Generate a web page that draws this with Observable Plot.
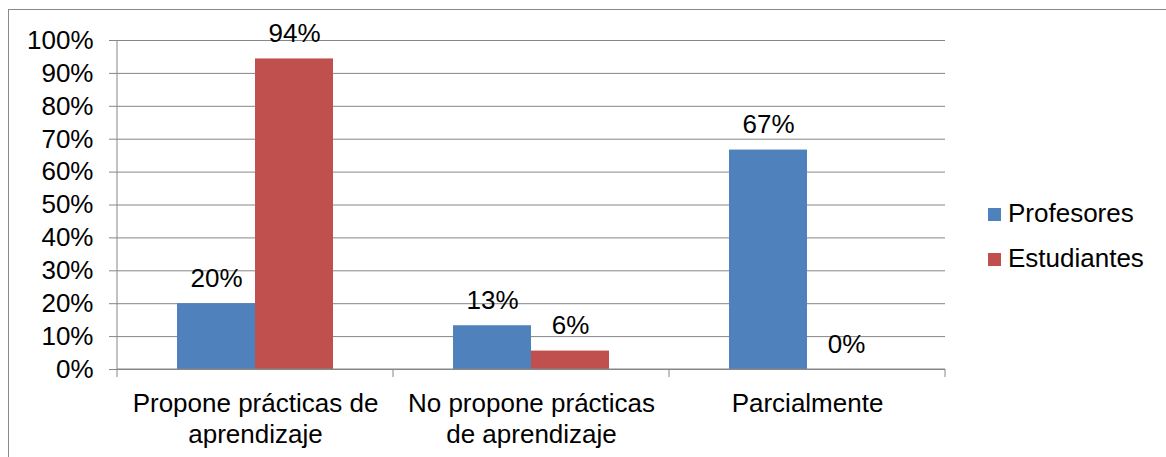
<!DOCTYPE html>
<html>
<head>
<meta charset="utf-8">
<script src="https://cdn.jsdelivr.net/npm/d3@7"></script>
<script src="https://cdn.jsdelivr.net/npm/@observablehq/plot@0.6"></script>
<style>
  html, body { margin: 0; padding: 0; background: #fff; overflow: hidden; }
  #wrap { position: relative; width: 1166px; height: 457px; }
  #border { position: absolute; left: 8px; top: 9px; width: 1300px; height: 600px;
            border-left: 1.5px solid #8a8a8a; border-top: 1.5px solid #8a8a8a; }
  #chart { position: absolute; left: 0; top: 0; }
</style>
</head>
<body>
<div id="wrap"><div id="border"></div><div id="chart"></div></div>
<script>
const categories = ["Propone prácticas de aprendizaje", "No propone prácticas de aprendizaje", "Parcialmente"];
const categoryLabels = ["Propone prácticas de\naprendizaje", "No propone prácticas\nde aprendizaje", "Parcialmente"];
const series = ["Profesores", "Estudiantes"];
const profesores = [0.20, 0.133, 0.667];
const estudiantes = [0.944, 0.056, 0.0];
const seriesColors = ["#4F81BD", "#C0504D"];
const yTicks = [0, 0.1, 0.2, 0.3, 0.4, 0.5, 0.6, 0.7, 0.8, 0.9, 1.0];

const values = {Profesores: profesores, Estudiantes: estudiantes};
const data = categories.flatMap((c, i) => series.map(s => ({cat: c, series: s, value: values[s][i]})));
const pct = d3.format(".0%");
const FONT = "'Liberation Sans', Arial, sans-serif";
const GRID = "#868686";

const chart = Plot.plot({
  width: 1166,
  height: 457,
  marginLeft: 116,
  marginRight: 220,
  marginTop: 40,
  marginBottom: 88,
  style: {fontFamily: FONT, fontSize: "26px", color: "#000", background: "transparent", overflow: "visible"},
  fx: {domain: categories, padding: 0},
  x: {domain: series, paddingInner: 0, paddingOuter: 0.75, axis: null},
  y: {domain: [0, 1]},
  color: {domain: series, range: seriesColors},
  marks: [
    Plot.ruleY(yTicks, {stroke: GRID, strokeWidth: 1}),
    Plot.barY(data, {fx: "cat", x: "series", y: "value", fill: "series"}),
    Plot.text(data, {fx: "cat", x: "series", y: "value", text: d => pct(d.value),
      lineAnchor: "bottom", dy: -17, fill: "#000", fontSize: 26}),
    Plot.axisY({ticks: yTicks, tickFormat: pct, tickSize: 8, tickPadding: 16,
      stroke: GRID, fill: "#000", label: null, fontSize: 26}),
    Plot.axisFx({anchor: "bottom", tickSize: 0, tickPadding: 20, label: null, fill: "#000", fontSize: 26, lineHeight: 1.2,
      tickFormat: d => categoryLabels[categories.indexOf(d)]})
  ]
});
document.getElementById("chart").appendChild(chart);

// Axis lines, boundary ticks and legend derived from the chart's scales
const fx = chart.scale("fx");
const y = chart.scale("y");
const svg = d3.select(chart);
const left = fx.apply(categories[0]);
const right = fx.apply(categories[categories.length - 1]) + fx.bandwidth;
const y0 = y.apply(0), y1 = y.apply(1);
const g = svg.append("g").attr("stroke", GRID).attr("stroke-width", 1);
g.append("line").attr("x1", left).attr("x2", left).attr("y1", y1).attr("y2", y0);
g.append("line").attr("x1", left).attr("x2", right).attr("y1", y0).attr("y2", y0);
const bounds = categories.map(c => fx.apply(c)).concat([right]);
g.selectAll(".bt").data(bounds).join("line")
  .attr("x1", d => d).attr("x2", d => d).attr("y1", y0).attr("y2", y0 + 8);

const color = chart.scale("color");
const lg = svg.append("g").attr("font-family", FONT).attr("font-size", 26).attr("text-anchor", "start");
series.forEach((s, i) => {
  const ty = 222 + i * 45;
  lg.append("rect").attr("x", 988).attr("y", ty - 14).attr("width", 13).attr("height", 13)
    .attr("fill", color.apply(s));
  lg.append("text").attr("x", 1008).attr("y", ty).attr("fill", "#000").text(s);
});
</script>
</body>
</html>
